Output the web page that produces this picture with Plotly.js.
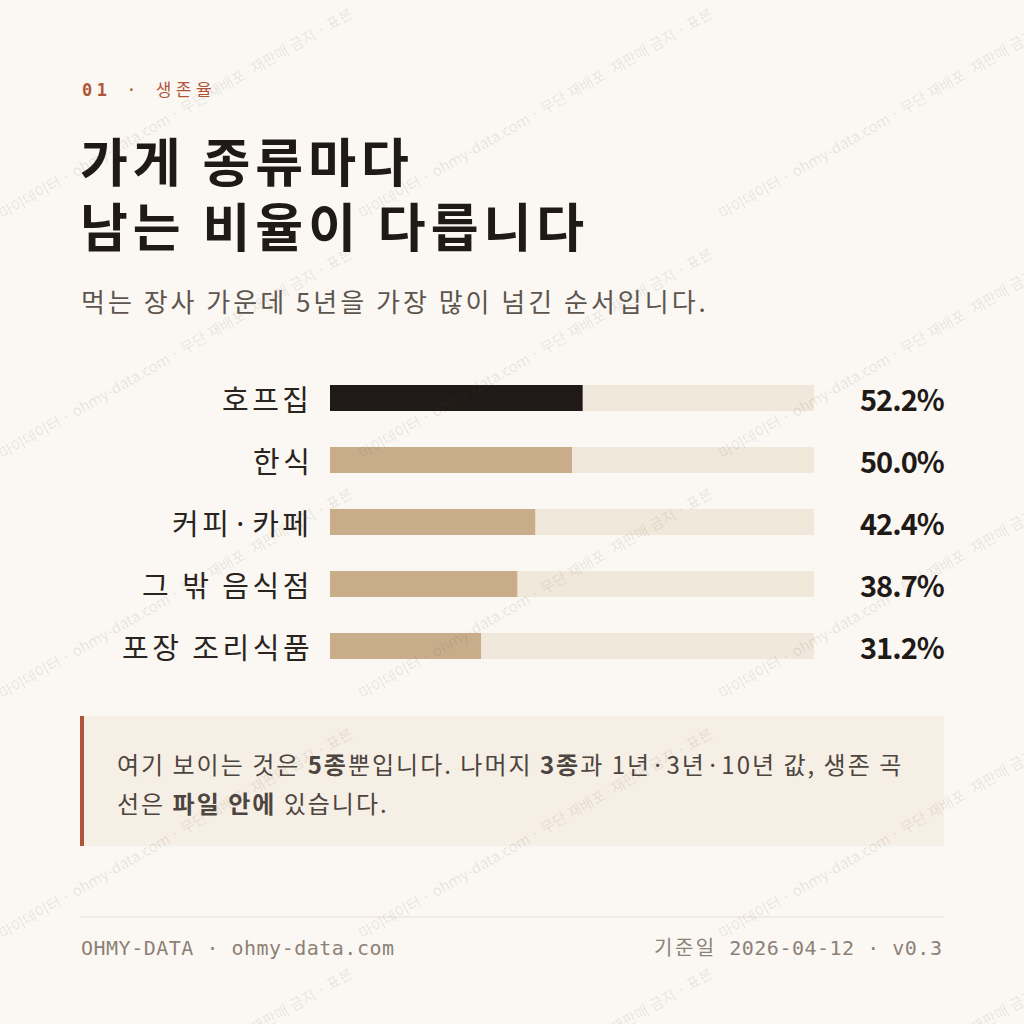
<!DOCTYPE html>
<html>
<head>
<meta charset="utf-8">
<script src="https://cdn.plot.ly/plotly-3.0.1.min.js"></script>
<style>
  html, body { margin: 0; padding: 0; background: #fbf8f3; }
  #chart { width: 1024px; height: 1024px; }
</style>
</head>
<body>
<div id="chart"></div>
<script>
// 5년 생존율 (먹는 장사)
const categories = ["호프집", "한식", "커피·카페", "그 밖 음식점", "포장 조리식품"];
const survival5y = [52.2, 50.0, 42.4, 38.7, 31.2];
const trackMax = 100;

const kickerNum = "01";
const kickerText = " · 생존율";
const titleLines = ["가게 종류마다", "남는 비율이 다릅니다"];
const subtitle = "먹는 장사 가운데 5년을 가장 많이 넘긴 순서입니다.";
const noteLines = [
  "여기 보이는 것은 <b>5종</b>뿐입니다. 나머지 <b>3종</b>과 1년·3년·10년 값, 생존 곡",
  "선은 <b>파일 안에</b> 있습니다."
];
const footLeft = "OHMY-DATA · ohmy-data.com";
const footRightLabel = "기준일";
const footRight = " 2026-04-12 · v0.3";
const watermark = "마이데이터 · ohmy-data.com · 무단 재배포·재판매 금지 · 표본";

// 픽셀 -> paper 좌표
const W = 1024, H = 1024;
const px = (x) => x / W;
const py = (y) => 1 - y / H;
const sp = (t, ls) => '<span style="letter-spacing:' + ls + 'px">' + t + "</span>";

const KR = "'Noto Sans CJK KR', 'Noto Sans', sans-serif";
const MONO = "'DejaVu Sans Mono', 'Noto Sans CJK KR', monospace";

const ink = "#1f1a17";
const tan = "#c9ad8b";
const rust = "#b0553a";

var track = {
  type: "bar",
  orientation: "h",
  y: categories,
  x: categories.map(() => trackMax),
  width: 0.42,
  marker: { color: "#f1e8dc" },
  hoverinfo: "skip"
};

var bars = {
  type: "bar",
  orientation: "h",
  y: categories,
  x: survival5y,
  width: 0.42,
  marker: { color: survival5y.map((v, i) => (i == 0 ? ink : tan)) }
};

var ann = [];

// 워터마크 (맨 위에 옅게)
var marks = [];
for (let r = -1; r < 5; r++) {
  for (let c = -1; c < 3; c++) {
    marks.push({ xref: "paper", yref: "paper", x: px(c * 360 + 175), y: py(r * 240 + 112),
      xanchor: "center", yanchor: "middle", textangle: -30, text: watermark, showarrow: false,
      font: { family: KR, size: 15, color: "rgba(90,70,50,0.12)" } });
  }
}

// 상단 글
ann.push({ xref: "paper", yref: "paper", x: px(80), y: py(90), xanchor: "left", yanchor: "middle",
  text: sp("<b>" + kickerNum + "</b>" + kickerText, 4.5), showarrow: false,
  font: { family: MONO, size: 17, color: rust } });
titleLines.forEach((t, i) => {
  ann.push({ xref: "paper", yref: "paper", x: px(78), y: py(159 + i * 65), xanchor: "left", yanchor: "middle",
    text: "<b>" + sp(t, 5) + "</b>", showarrow: false, font: { family: KR, size: 52, color: ink } });
});
ann.push({ xref: "paper", yref: "paper", x: px(79), y: py(300), xanchor: "left", yanchor: "middle",
  text: sp(subtitle, 3), showarrow: false, font: { family: KR, size: 26, color: "#5d554e" } });

// 막대 이름과 값
categories.forEach((c, i) => {
  ann.push({ xref: "x", yref: "y", x: 0, y: c, xanchor: "right", yanchor: "middle", xshift: -15,
    text: sp(c, 3.5), showarrow: false, font: { family: KR, size: 29, color: "#2a2420" } });
  ann.push({ xref: "paper", yref: "y", x: px(946), y: c, xanchor: "right", yanchor: "middle",
    text: "<b>" + sp(survival5y[i].toFixed(1) + "%", -1) + "</b>", showarrow: false,
    font: { family: KR, size: 29, color: ink } });
});

// 메모
noteLines.forEach((t, i) => {
  ann.push({ xref: "paper", yref: "paper", x: px(115), y: py(763 + i * 39), xanchor: "left", yanchor: "middle",
    text: sp(t, 2), showarrow: false, font: { family: KR, size: 24, color: "#4d453f" } });
});

// 바닥글
ann.push({ xref: "paper", yref: "paper", x: px(79), y: py(948), xanchor: "left", yanchor: "middle",
  text: sp(footLeft, 0.5), showarrow: false, font: { family: MONO, size: 20, color: "#8c8177" } });
ann.push({ xref: "paper", yref: "paper", x: px(944), y: py(948), xanchor: "right", yanchor: "middle",
  text: sp(footRightLabel, 2.5) + sp(footRight, 0.5), showarrow: false,
  font: { family: MONO, size: 20, color: "#8c8177" } });

var layout = {
  width: W,
  height: H,
  margin: { l: 0, r: 0, t: 0, b: 0 },
  paper_bgcolor: "#fbf8f3",
  plot_bgcolor: "rgba(0,0,0,0)",
  barmode: "overlay",
  showlegend: false,
  xaxis: { domain: [px(330), px(814)], range: [0, trackMax], visible: false, fixedrange: true },
  yaxis: { domain: [py(677), py(367)], type: "category", autorange: "reversed", visible: false, fixedrange: true },
  shapes: [
    { type: "rect", xref: "paper", yref: "paper", x0: px(80), x1: px(944), y0: py(846), y1: py(716),
      fillcolor: "#f6efe5", line: { width: 0 }, layer: "below" },
    { type: "rect", xref: "paper", yref: "paper", x0: px(80), x1: px(84), y0: py(846), y1: py(716),
      fillcolor: rust, line: { width: 0 }, layer: "below" },
    { type: "line", xref: "paper", yref: "paper", x0: px(80), x1: px(944), y0: py(917), y1: py(917),
      line: { color: "#e6dfd6", width: 1 } }
  ],
  annotations: ann.concat(marks)
};

Plotly.newPlot("chart", [track, bars], layout, { staticPlot: true, displayModeBar: false });
</script>
</body>
</html>
